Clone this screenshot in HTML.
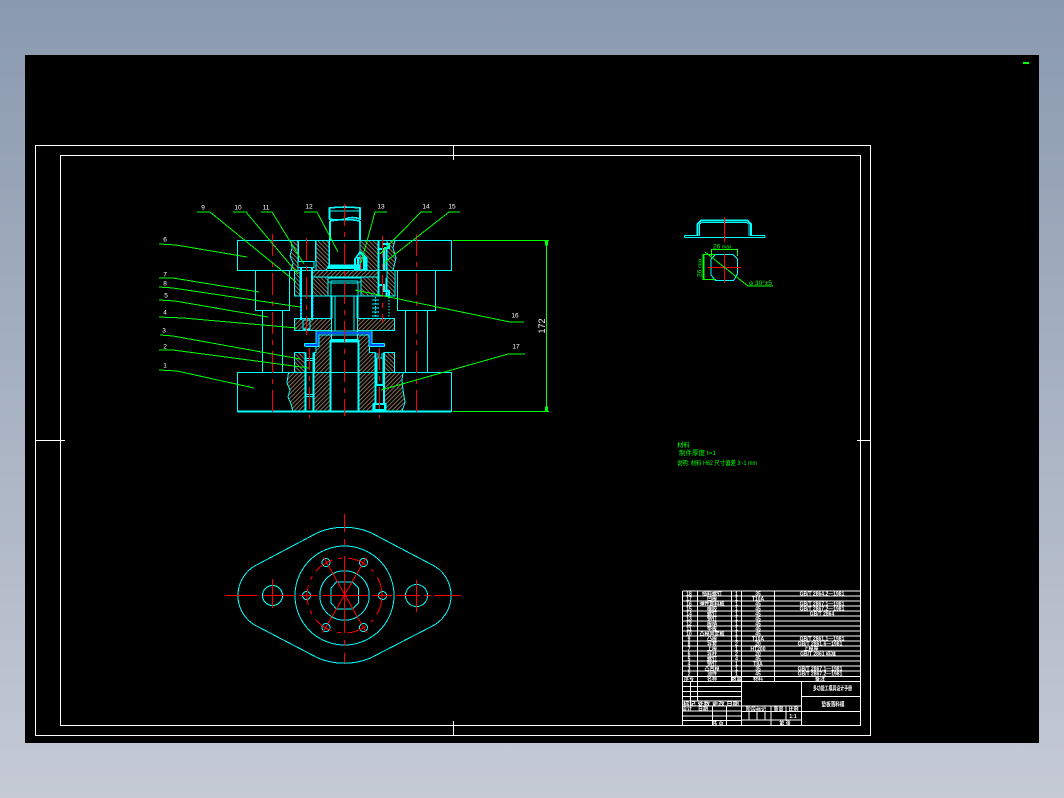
<!DOCTYPE html>
<html lang="zh">
<head>
<meta charset="utf-8">
<title>模具装配图</title>
<style>
html,body{margin:0;padding:0;width:1064px;height:798px;overflow:hidden;background:linear-gradient(#8a9aaf,#c5cad5)}
svg{position:absolute;left:0;top:0;display:block}
text{font-family:"Liberation Sans","Noto Sans CJK SC",sans-serif}
.c{fill:none;stroke:#00ffff;stroke-width:1}
.t{stroke-width:1.6}
.r{fill:none;stroke:#ff0000;stroke-width:1}
.d{stroke-dasharray:22 6 5 6}
.g{fill:none;stroke:#00ff00;stroke-width:1}
.w{fill:none;stroke:#fff;stroke-width:1}
.b{fill:none;stroke:#0050ff;stroke-width:2}
.l{fill:#fff;font-size:6.5px;text-anchor:middle}
.tb{fill:#fff;font-size:5px;text-anchor:middle;font-weight:bold}
.gt{fill:#00ff00;font-size:6.5px}
</style>
</head>
<body>
<svg width="1064" height="798" viewBox="0 0 1064 798" shape-rendering="crispEdges">
<defs>
<pattern id="h1" width="3" height="3" patternUnits="userSpaceOnUse" patternTransform="rotate(45)"><rect width="3" height="3" fill="#000"/><rect width="1" height="3" fill="#8a6e56"/></pattern>
<pattern id="h2" width="3" height="3" patternUnits="userSpaceOnUse" patternTransform="rotate(-45)"><rect width="3" height="3" fill="#000"/><rect width="1" height="3" fill="#8a6e56"/></pattern>
</defs>
<rect x="25" y="55" width="1014" height="688" fill="#000"/>
<rect x="1023" y="62" width="6" height="2" fill="#00ff00"/>

<!-- frames -->
<g class="w">
<rect x="35.5" y="145.5" width="835" height="590"/>
<rect x="60.5" y="155.5" width="800" height="570"/>
<path d="M453.5 146V160M453.5 721V736M36 440.5H65M857 440.5H871"/>
</g>

<!-- hatched sections -->
<g stroke="#00ffff" stroke-width="1">
<path fill="url(#h2)" d="M291 240.5H298V270.5H291L293 263L290 256L292 248Z"/>
<path fill="url(#h2)" d="M316 240.5H329V265L326 270.5H316Z"/>
<path fill="url(#h2)" d="M360 240.5H378V270.5H367V258L361 252L360 252Z"/>
<path fill="url(#h2)" d="M387 240.5H395L393 248L396 258L393 270.5H387Z"/>
<path fill="url(#h1)" d="M312 270.5H378V277H312Z"/>
<path fill="url(#h2)" d="M387 270.5H395V296H387Z"/>
<path fill="url(#h2)" d="M294.500 270.500H300V296H294.500Z"/>
<path fill="url(#h2)" d="M312.500 277H328V296H312.500Z"/>
<path fill="url(#h2)" d="M361 277H378V296H361Z"/>
<path fill="url(#h1)" d="M294.500 318.500H331.500V330.500H294.500Z"/>
<path fill="url(#h1)" d="M357.500 318.500H394.500V330.500H357.500Z"/>
<path fill="url(#h1)" d="M319 333L316 336V352.500H314.500V372.500H330.500V340H331.500V333Z"/>
<path fill="url(#h1)" d="M357.500 333V340H358.500V372.500H375V352.500H369.500V336L367 333Z"/>
<path fill="url(#h2)" d="M294.500 352.500H305V372.500H294.500Z"/>
<path fill="url(#h2)" d="M384 352.500H394.500V372.500H384Z"/>
<path fill="url(#h1)" d="M288.500 372.500H305V411.500H293L291 404L288 397L290 390L287 383Z"/>
<path fill="url(#h1)" d="M313.500 372.500H330.500V411.500H313.500Z"/>
<path fill="url(#h1)" d="M358.500 372.500H375V411.500H358.500Z"/>
<path fill="url(#h1)" d="M384.500 372.500H403L402 380L403 390L405 402L402 411.500H384.500Z"/>
</g>

<!-- main outlines -->
<g class="c">
<rect x="237.500" y="240.500" width="214" height="30"/>
<rect x="255.500" y="270.500" width="34" height="40"/>
<rect x="262.500" y="310.500" width="20" height="62"/>
<rect x="237.500" y="372.500" width="214" height="39"/>
<rect x="397.500" y="270.500" width="38" height="40"/>
<rect x="405.500" y="310.500" width="22" height="62"/>
<path d="M294.500 296H395"/>
<!-- shank -->
<path class="t" d="M330 221V241M360 221V241M330 221Q345 218 360 221"/>
<path class="t" d="M329.500 208Q345 206 360 208V219Q352 216 345 219Q337 221 329.500 219Z"/>
<path d="M329.500 211H360"/>
<path d="M329.500 241V265H360V241"/>
<path class="t" d="M328 266H361M328 268H361"/>
<path d="M328 278H361V282H358V296M328 278V282H331V296M331 281H358M331 283H358"/>
<!-- punch -->
<path d="M331.500 296V330.500M335 296V330.500M354 296V330.500M357.500 296V330.500"/>
<path class="t" d="M331.500 318V296M357.500 318V296"/>
<!-- left pin -->
<path d="M298.500 240.500V261M315.500 240.500V261M298 261.500H314V267.500H298Z"/>
<path class="t" d="M301 268V320M312 268V320"/>
<path d="M303 320H310V329H303Z"/>
<path d="M304 330H310" stroke="#44dddd"/>
<!-- plug -->
<path class="t" d="M355 270V259L360 252L366 259V270M358 270V258H364V270M354 270H367"/>
<!-- right bore -->
<path class="t" d="M378.500 241V296M386.500 247V270M386.500 278V296"/>
<path class="t" d="M382 244H389V248H384M378 249H384V270M378 285H384V291H389V296"/>
<!-- cavity -->
<path d="M331.500 331V339M357.500 331V339"/>
<path class="t" d="M330.500 340H358.500M330.500 341.500H358.500M330.500 340V411.500M358.500 340V411.500"/>
<!-- left lower pin -->
<path class="t" d="M305.500 352.500V411.500M313.500 352.500V411.500"/>
<path d="M305 358.500H314M305 360.500H314M305 394.500H314M305 396.500H314"/>
<!-- right lower screw -->
<path class="t" d="M375.500 352.500V403M384 352.500V403"/>
<path d="M378 353V358H382V353M377 358V385M383 358V385"/>
<path class="t" d="M376 385H383M374 404H385V410H374ZM373.500 403V411M385.500 403V411"/>
<path class="t" d="M237.500 411.500H451.500"/>
<path d="M305 346.500H319V335H369V346.500H384.500"/>
<path d="M304.500 343.500H316V331H372V343.500H384.500"/>
<path d="M304.500 343.500V346.500M384.500 343.500V346.500"/>
</g>

<!-- blue parts -->
<g>
<path class="b" d="M305 345H317.500V333H370.500V345H384"/>
<path class="b" d="M301 297V318M313.500 297V318" stroke-dasharray="2 1.500" style="stroke-width:1"/>
</g>
<g class="c">
<path d="M375.500 297V318M389 297V318" stroke-dasharray="1.500 1.500"/>
<path d="M372 300H379M372 304H379M372 308H379M372 312H379M372 316H379" stroke-width=".8"/>
</g>

<!-- red center lines -->
<g class="r">
<path class="d" d="M272.500 234V416"/>
<path class="d" d="M416.500 234V416"/>
<path class="d" d="M344.500 204V416"/>
<path class="d" d="M306.500 238V335"/>
<path class="d" d="M309.500 348V418"/>
<path class="d" d="M382.500 236V322"/>
<path class="d" d="M379.500 348V418"/>
<path d="M361 256V270"/>
</g>

<!-- leaders -->
<g class="g">
<polyline points="159,244 176,245 247,257"/>
<polyline points="159,278 173,278 259,292"/>
<polyline points="159,287 173,288 300,307"/>
<polyline points="159,300 175,301 268,317"/>
<polyline points="159,317 183,318 297,328"/>
<polyline points="160,335 173,336 300,359"/>
<polyline points="159,350 173,350 309,368"/>
<polyline points="159,370 177,371 254,388"/>
<polyline points="197,212 210,212 296,282"/>
<polyline points="233,212 246,212 298,274"/>
<polyline points="261,212 272,212 304,264"/>
<polyline points="304,212 317,212 338,252"/>
<polyline points="387,212 375,212 361,263"/>
<polyline points="432,212 421,212 380,254"/>
<polyline points="460,212 449,212 384,263"/>
<polyline points="524,322 510,322 355,290"/>
<polyline points="525,354 508,354 381,390"/>
<path d="M453 240.500H549M453 411.500H549M546.500 241V411" stroke-width="1"/>
<path d="M545.500 241H547.500V245H545.500ZM545.500 407H547.500V411H545.500Z" fill="#00ff00"/>
</g>

<g shape-rendering="auto">
<text class="l" x="203" y="209.500">9</text>
<text class="l" x="238" y="209.500">10</text>
<text class="l" x="266" y="209.500">11</text>
<text class="l" x="309" y="208.500">12</text>
<text class="l" x="381" y="208.500">13</text>
<text class="l" x="426" y="208.500">14</text>
<text class="l" x="452" y="208.500">15</text>
<text class="l" x="165" y="241.500">6</text>
<text class="l" x="165" y="276.500">7</text>
<text class="l" x="165" y="285.500">8</text>
<text class="l" x="166" y="297.500">5</text>
<text class="l" x="165" y="314.500">4</text>
<text class="l" x="164" y="332.500">3</text>
<text class="l" x="165" y="348.500">2</text>
<text class="l" x="165" y="367.500">1</text>
<text class="l" x="515" y="317.500">16</text>
<text class="l" x="516" y="348.500">17</text>
<text fill="#fff" font-size="9" text-anchor="middle" transform="translate(545,326) rotate(-90)">172</text>
</g>

<!-- part drawing -->
<g class="c">
<path d="M684.500 235.500H697.500M751 235.500H765M684.500 237.500H765M684.500 235.500V237.500M765 235.500V237.500" stroke-width="1"/>
<path class="t" d="M697.500 236V224L701 220.500H747.500L751 224V236"/>
<path d="M699.500 236V224L702 222.500H746.500L749 224V236"/>
<path d="M715.500 254.500H733L737.500 259V274L733.500 280.500H715.500L711 275V259Z"/>
</g>
<g class="r">
<path d="M724.500 217V242M724.500 254V283M708 267.500H741"/>
</g>
<g class="g">
<path d="M711.500 249V256M737.500 249V256M711 249.500H738M703 254.500H716M703 279.500H716" stroke-width="1"/>
<path d="M703.500 254V280" stroke-width="1.600"/>
<polyline points="705,252 748,286 773,286"/>
</g>
<g shape-rendering="auto">
<text class="gt" x="713" y="248.500" font-size="7">26 <tspan font-size="5">max</tspan></text>
<text class="gt" transform="translate(701.500,277) rotate(-90)">26 <tspan font-size="5">max</tspan></text>
<text class="gt" x="749" y="285" textLength="23" lengthAdjust="spacingAndGlyphs">φ 30°±5</text>
<text class="gt" x="677" y="447">材料</text>
<text class="gt" x="679" y="455">制件厚度 t=1</text>
<text class="gt" x="677" y="465" textLength="80" lengthAdjust="spacingAndGlyphs">说明: 材料 H62 尺寸偏差 3~1 mm</text>
</g>

<!-- plan view -->
<g class="c">
<path d="M258.500 564L318 532.500A68 68 0 0 1 370.500 532.500L430.500 564A34.400 34.400 0 0 1 430.500 627L370.500 658A68 68 0 0 1 318 658L258.500 627A34.400 34.400 0 0 1 258.500 564Z"/>
<circle cx="272.500" cy="595.500" r="10"/>
<circle cx="416.500" cy="595.500" r="11"/>
<circle cx="344.500" cy="595.500" r="49.500"/>
<circle cx="344.500" cy="595.500" r="24.700"/>
<path d="M336.500 582H352.500L358.500 588V603L352.500 609H336.500L331 603V588Z"/>
<circle cx="306.500" cy="595.500" r="4"/>
<circle cx="382.500" cy="595.500" r="4"/>
<circle cx="326" cy="562.500" r="4"/>
<circle cx="363.500" cy="562.500" r="4"/>
<circle cx="326" cy="627.500" r="4"/>
<circle cx="363.500" cy="627.500" r="4"/>
</g>
<g class="r">
<circle cx="344.500" cy="595.500" r="37.500" stroke-dasharray="20 6 4 6"/>
<path d="M225 595.500H257M263 595.500H295M299 595.500H318M322 595.500H368M372 595.500H392M396 595.500H420M424 595.500H431M434 595.500H461"/>
<path d="M344.500 514V532M344.500 539V545M344.500 556V633M344.500 640V646M344.500 653V663"/>
<path d="M366.500 557L322.500 633M323.500 557L366.500 633"/>
<path d="M272.500 579V608M416.500 580V612"/>
</g>

<!-- title block -->
<g class="w">
<path d="M682.500 591H861M682.500 596H861M682.500 601H861M682.500 606H861M682.500 611H861M682.500 616H861M682.500 621H861M682.500 626H861M682.500 631H861M682.500 636H861M682.500 641H861M682.500 646H861M682.500 651H861M682.500 656H861M682.500 661H861M682.500 666H861M682.500 671H861M682.500 676.500H861M682.500 681.500H861"/>
<path d="M682.500 591V725M697.500 591V681.500M731.500 591V681.500M741.500 591V725M774.500 591V681.500M801.500 681.500V725"/>
<path d="M682.500 686.500H741.500M682.500 691.500H741.500M682.500 696.500H741.500M682.500 701H741.500M682.500 706H741.500M682.500 711H741.500M682.500 716H741.500M682.500 720.500H741.500"/>
<path d="M690.500 681.500V706M697.500 681.500V701M712.500 706V725M726.500 706V725"/>
<path d="M741.500 706H801.500M741.500 711.500H801.500M741.500 720H801.500M749 711.500V720M757 711.500V720M765 711.500V720M771 706V725M786 706V720"/>
<path d="M801.500 696.500H861M801.500 711.500H861"/>
</g>
<g shape-rendering="auto">
<text class="tb" x="689" y="595.500">18</text><text class="tb" x="712" y="595.500">挡料螺钉</text><text class="tb" x="736.500" y="595.500">1</text><text class="tb" x="758" y="595.500">35</text><text class="tb" x="822" y="595.500">GB/T 2864.2—1981</text>
<text class="tb" x="689" y="600.500">17</text><text class="tb" x="712" y="600.500">凹模</text><text class="tb" x="736.500" y="600.500">1</text><text class="tb" x="758" y="600.500">T10A</text>
<text class="tb" x="689" y="605.500">16</text><text class="tb" x="712" y="605.500">弹性卸料板</text><text class="tb" x="736.500" y="605.500">1</text><text class="tb" x="758" y="605.500">45</text><text class="tb" x="822" y="605.500">GB/T 2867.1—1981</text>
<text class="tb" x="689" y="610.500">15</text><text class="tb" x="712" y="610.500">橡胶</text><text class="tb" x="736.500" y="610.500">1</text><text class="tb" x="758" y="610.500">45</text><text class="tb" x="822" y="610.500">GB/T 2867.2—1981</text>
<text class="tb" x="689" y="615.500">14</text><text class="tb" x="712" y="615.500">螺钉</text><text class="tb" x="736.500" y="615.500">1</text><text class="tb" x="758" y="615.500">45</text><text class="tb" x="822" y="615.500">GB/T 2864</text>
<text class="tb" x="689" y="620.500">13</text><text class="tb" x="712" y="620.500">销钉</text><text class="tb" x="736.500" y="620.500">1</text><text class="tb" x="758" y="620.500">45</text>
<text class="tb" x="689" y="625.500">12</text><text class="tb" x="712" y="625.500">模柄</text><text class="tb" x="736.500" y="625.500">1</text><text class="tb" x="758" y="625.500">45</text>
<text class="tb" x="689" y="630.500">11</text><text class="tb" x="712" y="630.500">垫板</text><text class="tb" x="736.500" y="630.500">1</text><text class="tb" x="758" y="630.500">45</text>
<text class="tb" x="689" y="635.500">10</text><text class="tb" x="712" y="635.500">凸模固定板</text><text class="tb" x="736.500" y="635.500">1</text><text class="tb" x="758" y="635.500">45</text>
<text class="tb" x="689" y="640.500">9</text><text class="tb" x="712" y="640.500">凸模</text><text class="tb" x="736.500" y="640.500">1</text><text class="tb" x="758" y="640.500">T10A</text><text class="tb" x="822" y="640.500">GB/T 2861.1—1981</text>
<text class="tb" x="689" y="645.500">8</text><text class="tb" x="712" y="645.500">导套</text><text class="tb" x="736.500" y="645.500">2</text><text class="tb" x="758" y="645.500">20</text><text class="tb" x="820" y="645.500">GB/T 2861.6—1981</text>
<text class="tb" x="689" y="650.500">7</text><text class="tb" x="712" y="650.500">上模</text><text class="tb" x="736.500" y="650.500">1</text><text class="tb" x="758" y="650.500">HT200</text><text class="tb" x="811" y="650.500">上模座</text>
<text class="tb" x="689" y="655.500">6</text><text class="tb" x="712" y="655.500">导柱</text><text class="tb" x="736.500" y="655.500">2</text><text class="tb" x="758" y="655.500">20</text><text class="tb" x="818" y="655.500">GB/T 2861 标准</text>
<text class="tb" x="689" y="660.500">5</text><text class="tb" x="712" y="660.500">螺钉</text><text class="tb" x="736.500" y="660.500">4</text><text class="tb" x="758" y="660.500">45</text>
<text class="tb" x="689" y="665.500">4</text><text class="tb" x="712" y="665.500">销钉</text><text class="tb" x="736.500" y="665.500">1</text><text class="tb" x="758" y="665.500">T8A</text>
<text class="tb" x="689" y="670.500">3</text><text class="tb" x="712" y="670.500">凸凹模</text><text class="tb" x="736.500" y="670.500">1</text><text class="tb" x="758" y="670.500">35</text><text class="tb" x="820" y="670.500">GB/T 2867.1—1981</text>
<text class="tb" x="689" y="675.500">2</text><text class="tb" x="712" y="675.500">顶件</text><text class="tb" x="736.500" y="675.500">1</text><text class="tb" x="758" y="675.500">45</text><text class="tb" x="820" y="675.500">GB/T 2867.2—1981</text>
<text class="tb" x="689" y="680.500">序号</text><text class="tb" x="712" y="680.500">名称</text><text class="tb" x="736.500" y="680.500">数量</text><text class="tb" x="758" y="680.500">材料</text><text class="tb" x="820" y="680.500">备注</text>
<text class="tb" x="711" y="705.500" font-size="4.500" textLength="56" lengthAdjust="spacingAndGlyphs">标记 处数 更改 日期</text>
<text class="tb" x="687" y="710.500">设计</text><text class="tb" x="703" y="710.500">日期</text>
<text class="tb" x="718" y="725">共 页</text>
<text class="tb" x="756" y="711">阶段标记</text><text class="tb" x="778.500" y="711">重量</text><text class="tb" x="793.500" y="711">比例</text>
<text class="tb" x="793" y="718">1:1</text>
<text class="tb" x="785" y="725">第 张</text>
<text class="tb" x="832.500" y="690.500" style="font-size:6px" textLength="39" lengthAdjust="spacingAndGlyphs">多功能工模具设计手册</text>
<text class="tb" x="833" y="706.500" style="font-size:6px" textLength="23" lengthAdjust="spacingAndGlyphs">垫板落料模</text>
</g>
</svg>
</body>
</html>
